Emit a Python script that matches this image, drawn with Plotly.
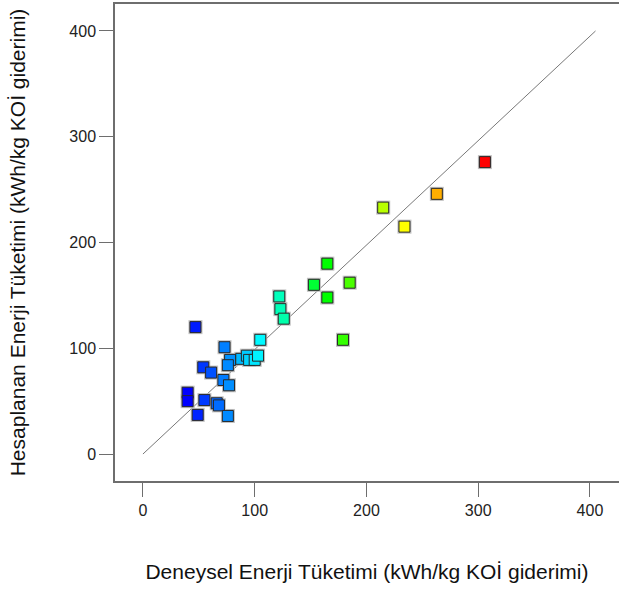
import plotly.graph_objects as go

# Actual (experimental) vs predicted energy consumption
deneysel = [306, 263, 234, 215, 165, 185, 153, 165, 179, 122, 123, 126, 105,
            47, 73, 54, 61, 78, 76, 88, 93, 95, 100, 103, 72, 77, 40, 40, 55,
            66, 68, 49, 76]
hesaplanan = [276, 246, 215, 233, 180, 162, 160, 148, 108, 149, 137, 128, 108,
              120, 101, 82, 77, 89, 84, 90, 93, 89, 89, 93, 70, 65, 58, 50, 51,
              48, 46, 37, 36]
line_x = [0, 405]
line_y = [0, 400]
tick_vals = [0, 100, 200, 300, 400]

colorscale = [
    [0.0, "rgb(0,0,255)"],
    [0.25, "rgb(0,255,255)"],
    [0.47, "rgb(0,255,0)"],
    [0.73, "rgb(255,255,0)"],
    [0.85, "rgb(255,165,0)"],
    [1.0, "rgb(255,0,0)"],
]

fig = go.Figure()
fig.add_trace(go.Scatter(x=line_x, y=line_y, mode="lines",
                         line=dict(color="rgb(120,120,120)", width=1),
                         hoverinfo="skip", showlegend=False))
fig.add_trace(go.Scatter(x=deneysel, y=hesaplanan, mode="markers",
                         marker=dict(symbol="square", size=14,
                                     color="rgba(185,185,185,0.9)"),
                         hoverinfo="skip", showlegend=False))
fig.add_trace(go.Scatter(x=deneysel, y=hesaplanan, mode="markers",
                         marker=dict(symbol="square", size=11,
                                     color=deneysel, colorscale=colorscale,
                                     cmin=min(deneysel), cmax=max(deneysel),
                                     line=dict(color="rgb(40,40,40)", width=1)),
                         showlegend=False))

axis_common = dict(
    showgrid=False, zeroline=False, showline=True, automargin=False,
    linecolor="rgb(110,110,110)", linewidth=1.5,
    ticks="outside", ticklen=14, tickwidth=1.2, tickcolor="rgb(110,110,110)",
    tickvals=tick_vals,
    tickfont=dict(family="Liberation Sans, Arial", size=16, color="#222"),
)

fig.update_layout(
    template="none",
    width=619, height=592,
    margin=dict(l=115, r=0, t=4, b=111, pad=0),
    plot_bgcolor="white", paper_bgcolor="white",
    xaxis=dict(range=[-25, 426], mirror=True,
               title=dict(text="Deneysel Enerji Tüketimi (kWh/kg KOİ giderimi)",
                          font=dict(family="Liberation Sans, Arial", size=21, color="#111"),
                          standoff=46),
               **axis_common),
    yaxis=dict(range=[-25.5, 425.5], mirror=False,
               title=dict(text="Hesaplanan Enerji Tüketimi (kWh/kg KOİ giderimi)",
                          font=dict(family="Liberation Sans, Arial", size=21, color="#111"),
                          standoff=38),
               **axis_common),
)

fig.write_html("out.html")
